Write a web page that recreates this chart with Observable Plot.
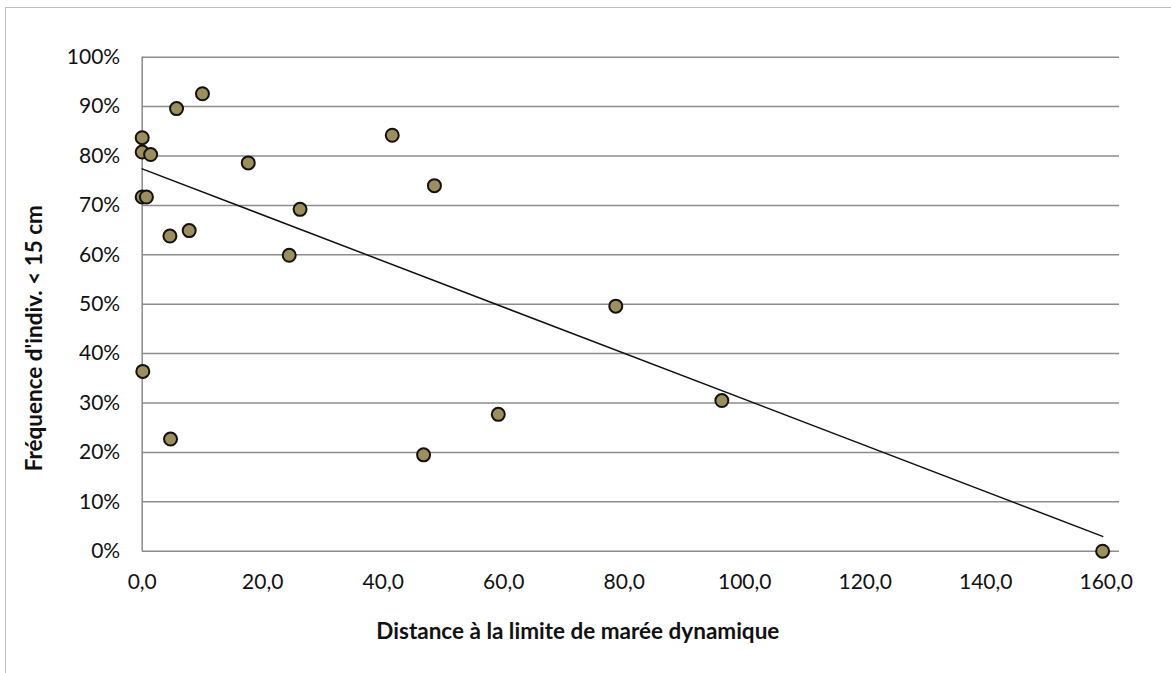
<!DOCTYPE html>
<html>
<head>
<meta charset="utf-8">
<script src="https://cdn.jsdelivr.net/npm/d3@7"></script>
<script src="https://cdn.jsdelivr.net/npm/@observablehq/plot@0.6"></script>
<style>
  html, body { margin: 0; padding: 0; background: #fff; overflow: hidden; }
  #wrap { position: relative; width: 1171px; height: 673px; }
  #frame { position: absolute; left: 5px; top: 7px; width: 1200px; height: 700px; border-left: 1.5px solid #bdbdbd; border-top: 1.5px solid #bdbdbd; }
  #chart { position: absolute; left: 0; top: 0; }
  svg { font-family: Lato, "Open Sans", sans-serif; }
</style>
</head>
<body>
<div id="wrap"><div id="frame"></div><div id="chart"></div></div>
<script>
// Distance à la limite de marée dynamique (x) and frequency of individuals < 15 cm (%)
const distance = [0.0, 0.0, 1.4, 0.0, 0.7, 5.7, 10.0, 17.6, 41.5, 4.6, 7.8, 26.2, 24.4, 0.1, 4.7, 48.5, 78.6, 59.1, 46.7, 96.2, 159.4];
const frequence = [83.7, 80.8, 80.3, 71.7, 71.7, 89.6, 92.6, 78.6, 84.2, 63.8, 64.9, 69.2, 59.9, 36.4, 22.7, 74.0, 49.6, 27.7, 19.5, 30.5, 0.0];
// Linear trend line endpoints
const trendX = [0.0, 159.4];
const trendY = [77.4, 3.0];
const xTicks = [0, 20, 40, 60, 80, 100, 120, 140, 160];
const yTicks = [0, 10, 20, 30, 40, 50, 60, 70, 80, 90, 100];
const xTitle = "Distance à la limite de marée dynamique";
const yTitle = "Fréquence d'indiv. < 15 cm";

const points = distance.map((d, i) => ({x: d, y: frequence[i]}));
const trend = trendX.map((d, i) => ({x: d, y: trendY[i]}));
const fmtX = d => d3.format(".1f")(d).replace(".", ",");

const chart = Plot.plot({
  width: 1171,
  height: 673,
  marginLeft: 141.7,
  marginRight: 52,
  marginTop: 56.7,
  marginBottom: 122.3,
  style: {background: "transparent", fontFamily: "Lato, 'Open Sans', sans-serif"},
  x: {domain: [0, 162.2], ticks: xTicks, tickFormat: fmtX, label: null},
  y: {domain: [0, 100], ticks: yTicks, tickFormat: d => d + "%", label: null},
  marks: [
    Plot.gridY(yTicks, {stroke: "#8c8c8c", strokeOpacity: 1, strokeWidth: 1.5}),
    Plot.ruleX([0], {stroke: "#8c8c8c", strokeWidth: 1.5}),
    Plot.axisX({ticks: xTicks, tickFormat: fmtX, tickSize: 0, tickPadding: 23, fontSize: 21, fill: "#111", label: null}),
    Plot.axisY({ticks: yTicks, tickFormat: d => d + "%", tickSize: 0, tickPadding: 22, fontSize: 21, fill: "#111", label: null}),
    Plot.line(trend, {x: "x", y: "y", stroke: "#111", strokeWidth: 1.5}),
    Plot.dot(points, {x: "x", y: "y", r: 6.5, fill: "#9c8f5b", stroke: "#111", strokeWidth: 2}),
    Plot.text([xTitle], {frameAnchor: "bottom", dx: -53, dy: 81, fontSize: 22.5, fontWeight: "bold", fill: "#111", textAnchor: "middle", lineAnchor: "middle"}),
    Plot.text([yTitle], {frameAnchor: "left", dx: -107, dy: 34, rotate: -90, fontSize: 22.5, fontWeight: "bold", fill: "#111", textAnchor: "middle", lineAnchor: "middle"})
  ]
});
document.getElementById("chart").appendChild(chart);
</script>
</body>
</html>
